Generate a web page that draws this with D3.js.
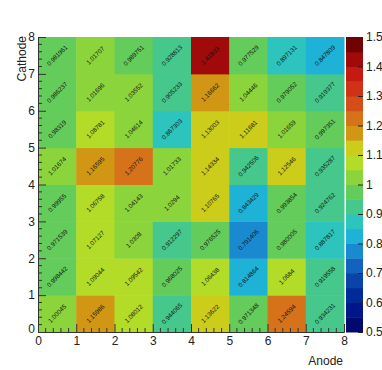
<!DOCTYPE html>
<html>
<head>
<meta charset="utf-8">
<script src="https://cdn.jsdelivr.net/npm/d3@7"></script>
<style>
  body { margin: 0; background: #fff; }
  svg { display: block; font-family: "Liberation Sans", Arial, sans-serif; }
</style>
</head>
<body>
<div id="chart"></div>
<script>
// cell values per cathode row (row 0 = bottom), anode columns 0..7
const anodes = [0, 1, 2, 3, 4, 5, 6, 7];
const cathodes = [0, 1, 2, 3, 4, 5, 6, 7];
const row0 = [1.00045, 1.15986, 1.08012, 0.944065, 1.13622, 0.971348, 1.24594, 0.934231];
const row1 = [0.998442, 1.09044, 1.09542, 0.968025, 1.06438, 0.814864, 1.0684, 0.919558];
const row2 = [0.971539, 1.07127, 1.0308, 0.912297, 0.976525, 0.791406, 0.980005, 0.887817];
const row3 = [0.99955, 1.06758, 1.04143, 1.0294, 1.10765, 0.843429, 0.993854, 0.924762];
const row4 = [1.01674, 1.16595, 1.20776, 1.01733, 1.14334, 0.942506, 1.12546, 0.935287];
const row5 = [0.98319, 1.08781, 1.04614, 0.867303, 1.13003, 1.11681, 1.01659, 0.997351];
const row6 = [0.986237, 1.01696, 1.03552, 0.905233, 1.16662, 1.04446, 0.979052, 0.919377];
const row7 = [0.981961, 1.01707, 0.989751, 0.928813, 1.41833, 0.977529, 0.897131, 0.847809];
const rows = [row0, row1, row2, row3, row4, row5, row6, row7];
const axisTicks = [0, 1, 2, 3, 4, 5, 6, 7, 8];
const zTicks = [0.5, 0.6, 0.7, 0.8, 0.9, 1.0, 1.1, 1.2, 1.3, 1.4, 1.5];

// 20 contour colours, 0.5 -> 1.5
const palette = ["#000a6e", "#00178a", "#002a98", "#0a44a8", "#1262be", "#1a8ad0",
  "#1eb2d6", "#2cc4bc", "#46c88c", "#64cc5a", "#8cd43c", "#b2dc28",
  "#cccc1a", "#d09614", "#d6721a", "#d44e1a", "#d03218", "#c41a12", "#a00a0a", "#700202"];

const W = 382, H = 370;
const svg = d3.select("#chart").append("svg").attr("width", W).attr("height", H);

const x = d3.scaleLinear().domain([0, 8]).range([38, 344]);
const y = d3.scaleLinear().domain([0, 8]).range([332, 37]);
const color = d3.scaleQuantize().domain([0.5, 1.5]).range(palette);
const fmt = v => String(+v.toPrecision(6));

const cells = [];
rows.forEach((r, j) => r.forEach((v, i) => cells.push({ a: anodes[i], c: cathodes[j], v })));

svg.append("g").selectAll("rect").data(cells).join("rect")
  .attr("x", d => x(d.a))
  .attr("y", d => y(d.c + 1))
  .attr("width", d => x(d.a + 1) - x(d.a) + 0.5)
  .attr("height", d => y(d.c) - y(d.c + 1) + 0.5)
  .attr("fill", d => color(d.v));

svg.append("g").selectAll("text").data(cells).join("text")
  .attr("transform", d => `translate(${x(d.a + 0.5)},${y(d.c + 0.5)}) rotate(-45)`)
  .attr("text-anchor", "middle")
  .attr("dy", "0.35em")
  .attr("font-size", 6.3)
  .attr("fill", "#111")
  .text(d => fmt(d.v));

// axes with inward ticks
const xAxis = d3.axisBottom(x).tickValues(axisTicks).tickSize(-8).tickPadding(9).tickFormat(d3.format("d"));
const gx = svg.append("g").attr("transform", `translate(0,${y(0)})`).call(xAxis);
const yAxis = d3.axisLeft(y).tickValues(axisTicks).tickSize(-8).tickPadding(3).tickFormat(d3.format("d"));
const gy = svg.append("g").attr("transform", `translate(${x(0)},0)`).call(yAxis);
[gx, gy].forEach(g => {
  g.selectAll("text").attr("font-size", 12).attr("fill", "#222").attr("font-family", "Liberation Sans, Arial, sans-serif");
  g.selectAll("line").attr("stroke", "#333");
  g.select(".domain").attr("stroke", "#333");
});
gx.selectAll("text").attr("dy", "0.35em");
gy.selectAll("text").filter(d => d === 0).attr("dy", "0.05em");

// minor ticks every 0.2
const minor = d3.range(0, 8.001, 0.2).filter(v => Math.abs(v - Math.round(v)) > 1e-6);
svg.append("g").selectAll("line").data(minor).join("line")
  .attr("x1", d => x(d)).attr("x2", d => x(d))
  .attr("y1", y(0)).attr("y2", y(0) - 4).attr("stroke", "#333");
svg.append("g").selectAll("line").data(minor).join("line")
  .attr("y1", d => y(d)).attr("y2", d => y(d))
  .attr("x1", x(0)).attr("x2", x(0) + 4).attr("stroke", "#333");

svg.append("text").attr("x", 343).attr("y", 365).attr("text-anchor", "end")
  .attr("font-size", 12).attr("fill", "#222").text("Anode");
svg.append("text").attr("transform", `translate(22,36) rotate(-90)`)
  .attr("text-anchor", "end").attr("dy", "0.35em")
  .attr("font-size", 12).attr("fill", "#222").text("Cathode");

// colour bar
const z = d3.scaleLinear().domain([0.5, 1.5]).range([332, 37]);
const bins = palette.map((c, i) => ({ lo: 0.5 + i * 0.05, hi: 0.55 + i * 0.05, c }));
svg.append("g").selectAll("rect").data(bins).join("rect")
  .attr("x", 346).attr("width", 17)
  .attr("y", d => z(d.hi)).attr("height", d => z(d.lo) - z(d.hi) + 0.5)
  .attr("fill", d => d.c);
const zAxis = d3.axisRight(z).tickValues(zTicks).tickSize(-5).tickPadding(3).tickFormat(d => String(+d.toFixed(1)));
const gz = svg.append("g").attr("transform", "translate(363,0)").call(zAxis);
gz.select(".domain").remove();
gz.selectAll("line").attr("stroke", "#222");
gz.selectAll("text").attr("font-size", 12).attr("fill", "#222").attr("font-family", "Liberation Sans, Arial, sans-serif");
</script>
</body>
</html>
